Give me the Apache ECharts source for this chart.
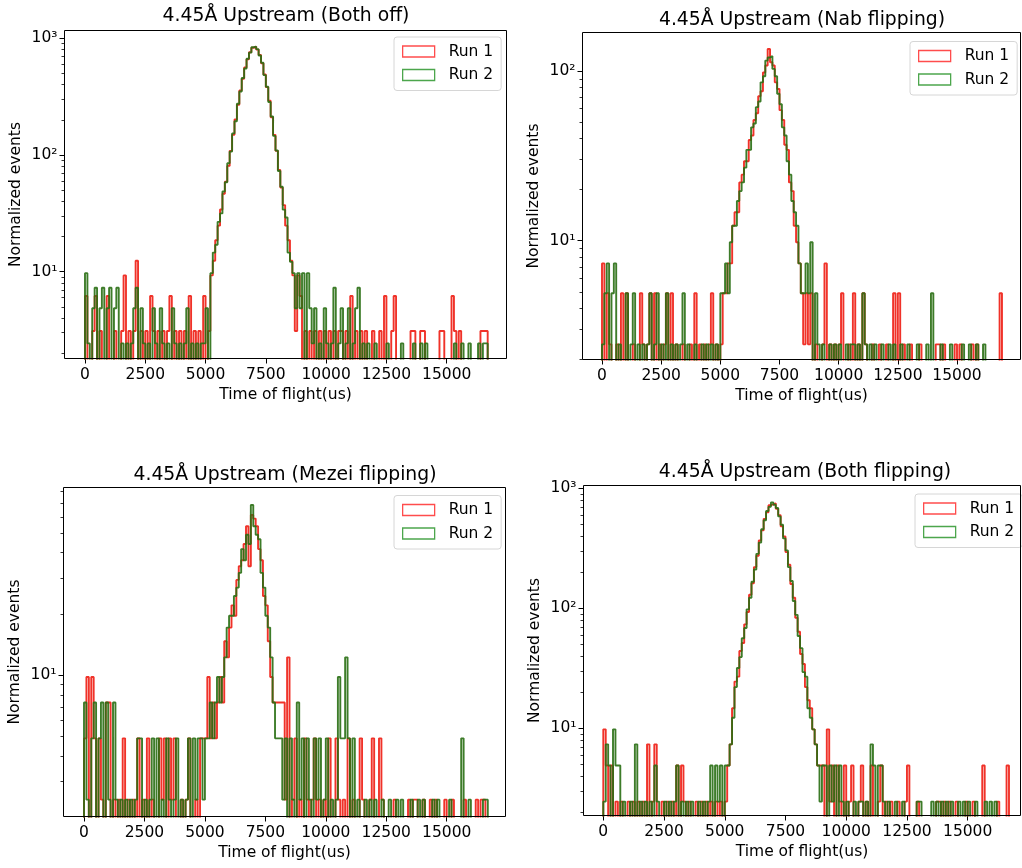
<!DOCTYPE html>
<html>
<head>
<meta charset="utf-8">
<script src="https://cdn.jsdelivr.net/npm/echarts@6/dist/echarts.min.js"></script>
<style>
html,body{margin:0;padding:0;background:#fff}
#main{width:1022px;height:868px}
</style>
</head>
<body>
<div id="main"></div>
<script>
// histogram bins: 100 us wide, starting at 0
var binWidth = 100;
var titles = ['4.45Å Upstream (Both off)', '4.45Å Upstream (Nab flipping)',
              '4.45Å Upstream (Mezei flipping)', '4.45Å Upstream (Both flipping)'];
var seriesNames = ['Run 1', 'Run 2'];
// normalisation factor (events per count) of each run, per panel
var normRun1 = [3.1, 2.45, 2.45, 2.45];
var normRun2 = [2.43, 2.45, 2.45, 2.45];
var xTicks = [0, 2500, 5000, 7500, 10000, 12500, 15000];
var yMajor = [10, 100, 1000];
var yMinor = [2,3,4,5,6,7,8,9,20,30,40,50,60,70,80,90,200,300,400,500,600,700,800,900];

// counts per bin
var p1Run1 = [2,0,0,1,2,0,1,0,0,2, 0,0,1,0,0,1,3,0,1,0, 1,4,0,1,0,1,0,2,1,0, 1,0,1,0,1,2,0,1,0,1,
  0,1,0,2,0,1,0,1,0,2, 0,1,
  3,4,6,8,11,15,19,26,35,48, 65,87,115,145,181,213,245,268,274,258, 232,197,158,123,94,68,48,35,24,17, 12,8,6,4,3,1,
  3,2,0,1,0,1,0,1,0,1, 0,1,0,1,0,1,0,1,1,0, 1,0,2,0,1,0,1,0,1,0, 0,1,0,0,1,0,2,0,0,1,
  2,0,0,0,0,0,0,1,1,0, 0,1,1,0,0,0,0,0,0,1, 1,0,0,0,2,1,0,1,0,0, 0,0,0,0,0,0,1,1,1];
var p1Run2 = [4,1,0,2,3,0,2,3,0,2, 3,0,2,3,0,1,0,1,0,1, 2,3,0,2,1,0,1,0,2,1, 0,2,1,0,1,0,2,1,0,1,
  0,1,2,0,1,0,1,0,1,1, 2,0,
  4,6,7,11,13,20,24,35,44,63, 80,113,144,188,227,275,310,345,348,332, 293,254,199,158,117,88,60,45,30,22, 14,12,6,5,4,2,
  4,2,4,0,4,2,1,2,0,1, 0,2,1,0,1,3,0,1,2,0, 1,2,0,1,2,3,0,1,0,1, 0,0,1,0,0,0,0,1,0,0,
  0,0,0,1,0,0,0,0,1,0, 0,1,0,1,0,0,0,0,0,0, 0,0,0,0,0,1,0,0,1,0, 0,1,0,0,0,1,0,1,1];

var p2Run1 = [3,0,2,1,0,0,1,0,2,0, 2,0,0,1,0,0,2,1,0,1, 2,0,2,0,1,0,1,2,0,2, 0,1,0,0,1,0,0,1,0,2,
  0,1,0,1,0,1,2,0,1,0, 1,
  2,2,3,3,5,6,6,9,10,12, 12,16,17,21,23,29,31,40,44,55, 46,44,35,32,24,21,15,14,9,8, 5,4,3,2,1,
  2,1,2,0,1,0,0,1,3,0, 1,0,1,0,1,2,0,0,1,0, 2,0,1,0,2,1,0,0,1,0, 0,1,0,0,1,0,0,2,0,2,
  0,1,0,0,1,0,0,0,1,0, 0,0,0,0,0,1,1,0,1,0, 0,0,0,1,0,1,0,0,0,0, 1,0,1,0,0,0,0,0,0,0, 0,0,2];
var p2Run2 = [1,2,3,0,2,3,0,1,0,0, 2,0,1,2,0,1,0,1,0,1, 2,0,1,2,0,1,0,2,0,1, 0,1,0,1,2,0,1,0,0,1,
  0,0,1,0,1,0,1,0,1,0, 2,
  2,3,2,4,5,5,7,8,9,11, 14,14,19,20,25,27,35,38,47,49, 50,42,38,30,26,19,17,12,10,7, 6,5,3,2,2,
  3,2,4,0,2,1,0,1,0,0, 1,0,1,0,1,0,0,1,0,1, 1,0,1,0,2,1,0,1,0,1, 0,0,1,0,0,1,0,1,0,0,
  1,0,0,1,0,0,0,1,0,0, 0,1,0,2,0,0,0,1,0,0, 0,1,0,0,0,0,1,0,0,1, 0,0,1,0,0,1,0,0,0,0, 0,0,0];

var p3Run1 = [2,4,0,4,2,0,2,1,0,3, 3,0,1,0,1,0,2,0,1,0, 1,0,2,0,1,0,2,0,1,0, 0,2,1,2,0,2,1,2,0,0,
  1,0,1,2,0,0,1,0,2,2,
  2,4,2,3,2,3,4,3,6,5, 7,9,8,12,14,15,18,22,14,25, 24,22,17,15,10,9,6,4,3,3, 3,
  3,3,1,5,0,1,2,0,1,0, 2,1,0,1,2,0,1,0,1,0, 2,0,0,2,1,0,1,0,2,0, 1,0,0,2,1,0,0,1,2,0,
  0,2,1,0,0,0,0,1,0,0, 0,0,0,1,0,1,1,0,0,1, 0,0,1,0,1,0,0,0,1,0, 0,1,0,0,0,0,1,0,0,0, 0,1,0,1,1,0];
var p3Run2 = [3,1,0,2,3,0,2,3,0,3, 1,0,3,1,0,1,0,1,0,1, 0,1,2,2,0,1,0,1,2,0, 2,0,1,0,2,1,0,1,2,0,
  1,0,1,2,0,2,1,2,2,1,
  2,2,3,2,3,4,3,4,5,7, 8,8,10,11,13,17,15,20,18,28, 22,20,19,13,11,8,7,5,3,2, 2,
  2,1,2,0,2,1,0,3,1,2, 0,2,1,0,2,1,2,0,1,2, 0,1,0,1,4,2,2,5,2,0, 2,0,1,0,0,1,0,1,0,1,
  0,0,1,0,0,1,0,0,1,0, 1,0,0,0,1,0,0,1,0,1, 0,0,0,1,0,1,0,0,0,0, 1,0,0,0,0,2,0,0,1,0, 0,0,0,0,1,1];

var p4Run1 = [4,2,0,2,0,1,0,1,0,0, 1,0,1,0,1,0,1,0,3,0, 1,3,0,0,1,0,1,0,1,0, 2,0,2,1,0,1,0,0,1,0,
  1,0,1,0,1,0,1,0,1,0, 1,
  2,3,6,10,11,18,21,30,38,53, 66,90,112,150,182,227,258,295,300,306, 275,244,197,162,120,94,65,50,34,26, 17,14,9,7,6,4,3,2,2,
  2,0,4,1,2,0,2,1,0,2, 0,1,2,0,0,1,2,0,1,0, 2,0,0,1,2,0,1,0,1,0, 0,1,0,0,1,2,0,0,0,1,
  0,0,0,0,0,0,0,1,1,0, 1,0,1,0,0,1,0,0,0,1, 0,0,1,0,0,0,2,0,0,0, 0,0,1,0,0,0,2];
var p4Run2 = [1,3,2,0,4,2,2,0,1,0, 0,1,0,3,0,1,0,1,0,1, 0,2,1,0,0,1,0,1,0,1, 2,0,1,0,1,0,1,0,0,1,
  0,1,0,1,2,0,2,1,2,0, 2,
  2,3,5,9,13,16,23,28,40,50, 68,86,116,144,186,221,264,286,311,298, 280,238,203,156,124,90,69,47,36,24, 19,12,11,6,5,4,3,2,1,
  2,2,0,2,1,2,0,2,1,0, 1,0,0,1,0,1,1,0,1,0, 3,2,0,2,2,1,0,1,0,0, 1,0,0,1,0,0,0,0,0,1,
  1,0,0,0,0,1,0,1,0,1, 0,1,0,1,0,0,1,0,1,0, 1,0,0,1,0,0,0,1,0,1, 0,1,0,0,0,0,0];

var run1Counts = [p1Run1, p2Run1, p3Run1, p4Run1];
var run2Counts = [p1Run2, p2Run2, p3Run2, p4Run2];

// layout of the four panels (pixels) and axis ranges
var panels = [
  {left: 64.5, top: 30.5, width: 442, height: 328, xMin: -850, xMax: 17480, yMin: 1.804, yMax: 1166, legendLeft: 394, legendTop: 37, titleX: 286, titleY: 16},
  {left: 582.5, top: 32.5, width: 438, height: 327, xMin: -824, xMax: 17683, yMin: 1.995, yMax: 168.6, legendLeft: 910, legendTop: 41.5, titleX: 802, titleY: 20},
  {left: 63.5, top: 487.5, width: 442, height: 329, xMin: -848, xMax: 17432, yMin: 2.025, yMax: 83.6, legendLeft: 394, legendTop: 495.5, titleX: 285, titleY: 475},
  {left: 583.5, top: 485.5, width: 437, height: 330, xMin: -815, xMax: 17174, yMin: 1.877, yMax: 1055, legendLeft: 915, legendTop: 494, titleX: 805, titleY: 472}
];

var FONT = 'DejaVu Sans';
var red = 'rgba(238,28,18,0.9)';
var green = 'rgba(40,110,18,0.9)';
var redKey = 'rgba(255,0,0,0.7)';
var greenKey = 'rgba(0,128,0,0.7)';
var sup = {1: '\u00b9', 2: '\u00b2', 3: '\u00b3'};
var FLOOR = 0.5;   // empty bins fall below the log axis and get clipped

function steps(counts, norm) {
  var pts = [[0, FLOOR]];
  for (var i = 0; i < counts.length; i++)
    pts.push([i * binWidth, counts[i] > 0 ? counts[i] * norm : FLOOR]);
  pts.push([counts.length * binWidth, FLOOR]);
  return pts;
}

var grid = [], xAxis = [], yAxis = [], series = [], legend = [], title = [];
for (var i = 0; i < panels.length; i++) {
  var p = panels[i];
  grid.push({left: p.left, top: p.top, width: p.width, height: p.height, show: true,
    borderColor: '#000', borderWidth: 1, backgroundColor: 'transparent', z: 5});
  title.push({text: titles[i], left: p.titleX, top: p.titleY - 11, textAlign: 'center', padding: 0,
    textStyle: {fontFamily: FONT, fontSize: 18.8, fontWeight: 'normal', color: '#000', lineHeight: 22}});
  xAxis.push({gridIndex: i, type: 'value', min: p.xMin, max: p.xMax,
    axisLine: {show: false, onZero: false}, splitLine: {show: false},
    axisTick: {customValues: xTicks, length: 5, lineStyle: {color: '#000', width: 1}},
    axisLabel: {customValues: xTicks, margin: 7.5, color: '#000', fontFamily: FONT, fontSize: 15.5, lineHeight: 18,
      formatter: function (v) { return String(v); }},
    name: 'Time of flight(us)', nameLocation: 'middle', nameGap: 27,
    nameTextStyle: {fontFamily: FONT, fontSize: 15.5, color: '#000', lineHeight: 18}});
  var majors = yMajor.filter(function (v) { return v >= p.yMin && v <= p.yMax; });
  var minors = yMinor.filter(function (v) { return v >= p.yMin && v <= p.yMax; });
  yAxis.push({gridIndex: i, type: 'log', logBase: 10, min: p.yMin, max: p.yMax, position: 'left',
    axisLine: {show: false, onZero: false}, splitLine: {show: false}, minorTick: {show: false},
    axisTick: {customValues: majors, length: 5, lineStyle: {color: '#000', width: 1}},
    axisLabel: {customValues: majors, margin: 7, color: '#000', fontFamily: FONT, fontSize: 15.5,
      formatter: function (v) { return '10' + sup[Math.round(Math.log(v) / Math.LN10)]; }},
    name: 'Normalized events', nameLocation: 'middle', nameGap: 40,
    nameTextStyle: {fontFamily: FONT, fontSize: 15.5, color: '#000', lineHeight: 18}});
  yAxis.push({gridIndex: i, type: 'log', logBase: 10, min: p.yMin, max: p.yMax, position: 'left',
    axisLine: {show: false, onZero: false}, splitLine: {show: false}, axisLabel: {show: false},
    axisTick: {customValues: minors, length: 3, lineStyle: {color: '#000', width: 0.8}}});
  series.push({type: 'line', name: seriesNames[0], xAxisIndex: i, yAxisIndex: 2 * i,
    data: steps(run1Counts[i], normRun1[i]), step: 'end', showSymbol: false, symbol: 'none',
    lineStyle: {color: red, width: 1.9}, itemStyle: {color: red}, silent: true, clip: true});
  series.push({type: 'line', name: seriesNames[1], xAxisIndex: i, yAxisIndex: 2 * i,
    data: steps(run2Counts[i], normRun2[i]), step: 'end', showSymbol: false, symbol: 'none',
    lineStyle: {color: green, width: 1.9}, itemStyle: {color: green}, silent: true, clip: true});
  legend.push({orient: 'vertical', left: p.legendLeft, top: p.legendTop, padding: [6.5, 8, 7.5, 8],
    itemGap: 7.5, itemWidth: 32, itemHeight: 11, icon: 'rect', selectedMode: false,
    backgroundColor: '#fff', borderColor: '#d6d6d6', borderWidth: 1, borderRadius: 3,
    textStyle: {fontFamily: FONT, fontSize: 15.5, color: '#000', lineHeight: 15, padding: [0, 0, 0, 9]},
    data: [
      {name: seriesNames[0], itemStyle: {color: 'transparent', borderColor: redKey, borderWidth: 1.3}},
      {name: seriesNames[1], itemStyle: {color: 'transparent', borderColor: greenKey, borderWidth: 1.3}}
    ]});
}

var chart = echarts.init(document.getElementById('main'), null, {renderer: 'canvas'});
chart.setOption({
  animation: false,
  backgroundColor: '#fff',
  title: title,
  legend: legend,
  grid: grid,
  xAxis: xAxis,
  yAxis: yAxis,
  series: series
});
</script>
</body>
</html>
